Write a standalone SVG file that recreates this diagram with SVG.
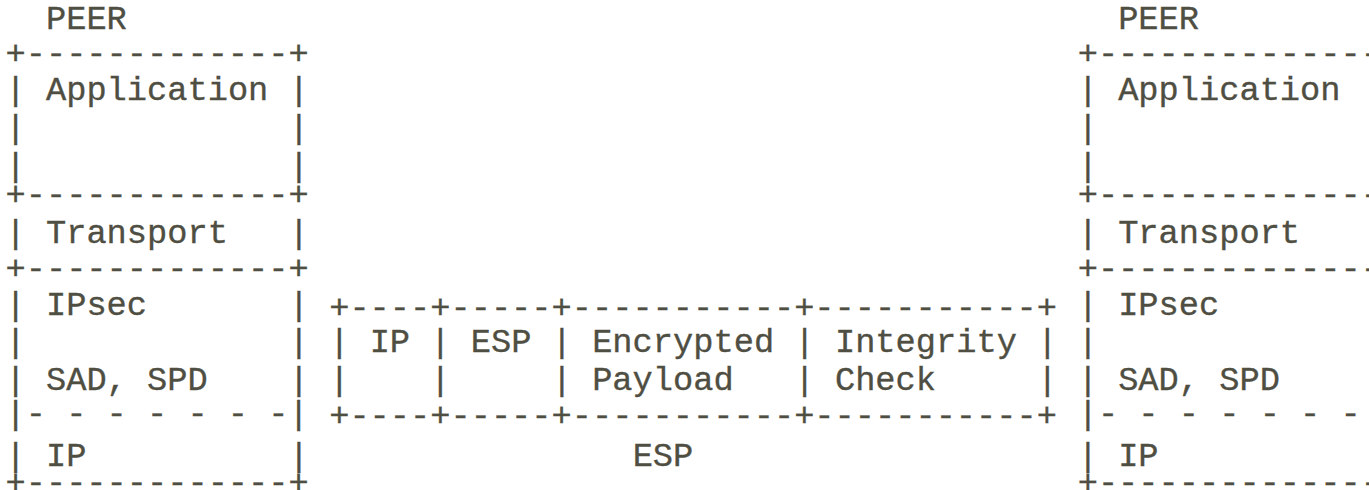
<svg xmlns="http://www.w3.org/2000/svg" width="1369" height="490" viewBox="0 0 1369 490">
<style>
.t{font-family:"Liberation Mono","DejaVu Sans Mono",monospace;font-size:33.7px;fill:#4f4e42;stroke:#4f4e42;stroke-width:0.35px}
</style>
<rect width="1369" height="490" fill="#ffffff"/>
<g id="peer-left" class="t">
<text x="45.96" y="29">PEER</text>
<text x="5.5" y="64">+-------------+</text>
<text x="5.5" y="100">|</text><text x="45.96" y="100">Application</text><text x="288.72" y="100">|</text>
<text x="5.5" y="138">|</text><text x="288.72" y="138">|</text>
<text x="5.5" y="176">|</text><text x="288.72" y="176">|</text>
<text x="5.5" y="205">+-------------+</text>
<text x="5.5" y="243">|</text><text x="45.96" y="243">Transport</text><text x="288.72" y="243">|</text>
<text x="5.5" y="279">+-------------+</text>
<text x="5.5" y="315">|</text><text x="45.96" y="315">IPsec</text><text x="288.72" y="315">|</text>
<text x="5.5" y="352">|</text><text x="288.72" y="352">|</text>
<text x="5.5" y="390">|</text><text x="45.96" y="390">SAD, SPD</text><text x="288.72" y="390">|</text>
<text x="5.5" y="424">|- - - - - - -|</text>
<text x="5.5" y="466">|</text><text x="45.96" y="466">IP</text><text x="288.72" y="466">|</text>
<text x="5.5" y="493">+-------------+</text>
</g>
<g id="esp-packet" class="t">
<text x="329.18" y="318">+----+-----+-----------+-----------+</text>
<text x="329.18" y="352">|</text><text x="369.64" y="352">IP</text><text x="430.33" y="352">|</text><text x="470.79" y="352">ESP</text><text x="551.71" y="352">|</text><text x="592.17" y="352">Encrypted</text><text x="794.47" y="352">|</text><text x="834.93" y="352">Integrity</text><text x="1037.23" y="352">|</text>
<text x="329.18" y="390">|</text><text x="430.33" y="390">|</text><text x="551.71" y="390">|</text><text x="592.17" y="390">Payload</text><text x="794.47" y="390">|</text><text x="834.93" y="390">Check</text><text x="1037.23" y="390">|</text>
<text x="329.18" y="426">+----+-----+-----------+-----------+</text>
<text x="632.63" y="466">ESP</text>
</g>
<g id="peer-right" class="t">
<text x="1118.15" y="29">PEER</text>
<text x="1077.69" y="64">+--------------</text>
<text x="1077.69" y="100">|</text><text x="1118.15" y="100">Application</text>
<text x="1077.69" y="138">|</text>
<text x="1077.69" y="176">|</text>
<text x="1077.69" y="205">+--------------</text>
<text x="1077.69" y="243">|</text><text x="1118.15" y="243">Transport</text>
<text x="1077.69" y="279">+--------------</text>
<text x="1077.69" y="315">|</text><text x="1118.15" y="315">IPsec</text>
<text x="1077.69" y="352">|</text>
<text x="1077.69" y="390">|</text><text x="1118.15" y="390">SAD, SPD</text>
<text x="1077.69" y="424">|- - - - - - -</text>
<text x="1077.69" y="466">|</text><text x="1118.15" y="466">IP</text>
<text x="1077.69" y="493">+--------------</text>
</g>
<g id="connectors"></g>
</svg>
